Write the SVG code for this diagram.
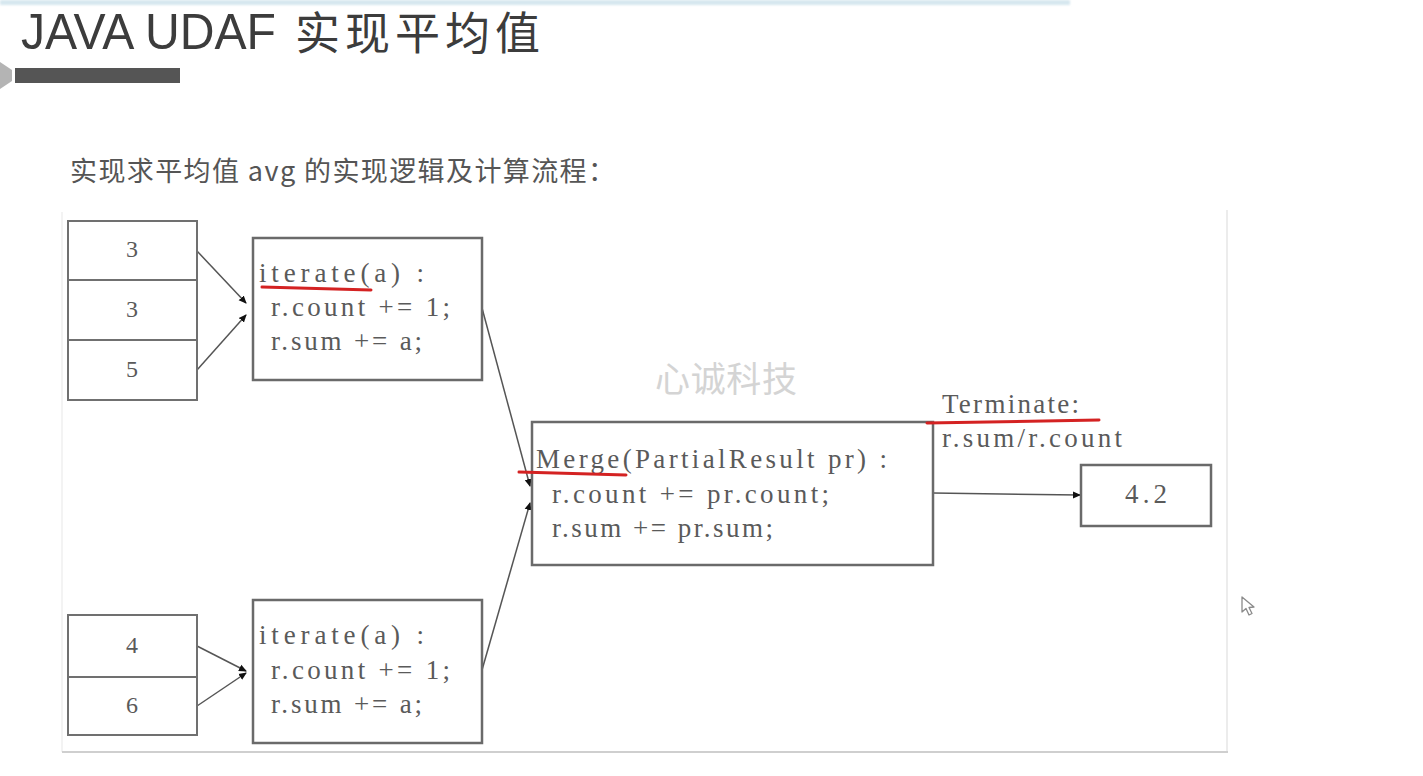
<svg xmlns="http://www.w3.org/2000/svg" width="1423" height="776" viewBox="0 0 1423 776">
  <defs>
    <style>
      .title { font-family: "Liberation Sans", "Noto Sans CJK SC", sans-serif; fill: #3c3c3c; }
      .sub { font-family: "Noto Sans CJK SC", "Liberation Sans", sans-serif; fill: #555; font-size: 27px; }
      .code { font-family: "Liberation Serif", "Noto Sans CJK SC", serif; fill: #5a5a5a; font-size: 27px; }
      .num { font-family: "Liberation Serif", serif; fill: #5a5a5a; font-size: 24px; text-anchor: middle; }
      .box { fill: #fff; stroke: #6a6a6a; stroke-width: 2.5; }
      .cell { fill: #fff; stroke: #707070; stroke-width: 2; }
      .link { fill: none; stroke: #555; stroke-width: 1.5; }
      .mark { fill: none; stroke: #d42222; stroke-width: 3; stroke-linecap: round; }
      .wm { font-family: "Noto Sans CJK SC", sans-serif; fill: #d4d4d4; font-size: 35px; }
    </style>
    <marker id="arrow" markerWidth="8" markerHeight="8" refX="7" refY="4" orient="auto" markerUnits="userSpaceOnUse">
      <path d="M0,0.5 L8,4 L0,7.5 Z" fill="#111"/>
    </marker>
    <filter id="soft" x="-5%" y="-50%" width="110%" height="200%">
      <feGaussianBlur stdDeviation="1.2"/>
    </filter>
  </defs>

  <rect x="0" y="0" width="1423" height="776" fill="#fff"/>

  <!-- slide header -->
  <g id="header">
    <rect x="0" y="0" width="1070" height="5" fill="#d6e7ef" filter="url(#soft)"/>
    <text class="title" x="21" y="49" font-size="50" textLength="255" lengthAdjust="spacingAndGlyphs">JAVA UDAF</text>
    <text class="title" x="295" y="50" font-family="Noto Sans CJK SC, sans-serif" font-size="45" textLength="245" lengthAdjust="spacing">实现平均值</text>
    <polygon points="0,62 12,70 12,81 0,89" fill="#b4b4b4"/>
    <rect x="15" y="68" width="165" height="15" fill="#555"/>
  </g>

  <g id="subtitle">
    <text class="sub" x="70" y="181" textLength="545" lengthAdjust="spacing">实现求平均值 avg 的实现逻辑及计算流程：</text>
  </g>

  <!-- frame of the flow figure -->
  <g id="frame">
    <line x1="62" y1="212" x2="62" y2="752" stroke="#f3f3f3" stroke-width="2"/>
    <line x1="1227" y1="210" x2="1227" y2="752" stroke="#ececec" stroke-width="2"/>
    <line x1="62" y1="752" x2="1228" y2="752" stroke="#cfcfcf" stroke-width="2"/>
  </g>

  <!-- watermark -->
  <g id="watermark">
    <text class="wm" x="655" y="392" textLength="142" lengthAdjust="spacing">心诚科技</text>
  </g>

  <!-- connectors -->
  <g id="connectors">
    <line class="link" x1="197" y1="251" x2="246" y2="303" marker-end="url(#arrow)"/>
    <line class="link" x1="197" y1="370" x2="246" y2="315" marker-end="url(#arrow)"/>
    <line class="link" x1="197" y1="646" x2="246" y2="671" marker-end="url(#arrow)"/>
    <line class="link" x1="197" y1="706" x2="246" y2="673" marker-end="url(#arrow)"/>
    <line class="link" x1="482" y1="308" x2="530" y2="486" marker-end="url(#arrow)"/>
    <line class="link" x1="482" y1="670" x2="530" y2="503" marker-end="url(#arrow)"/>
    <line class="link" x1="933" y1="493" x2="1080" y2="495" marker-end="url(#arrow)"/>
  </g>

  <!-- input values, first split -->
  <g id="values-a">
    <rect class="cell" x="68" y="221" width="129" height="59"/>
    <rect class="cell" x="68" y="280" width="129" height="60"/>
    <rect class="cell" x="68" y="340" width="129" height="60"/>
    <text class="num" x="132" y="257">3</text>
    <text class="num" x="132" y="317">3</text>
    <text class="num" x="132" y="377">5</text>
  </g>

  <!-- input values, second split -->
  <g id="values-b">
    <rect class="cell" x="68" y="615" width="129" height="62"/>
    <rect class="cell" x="68" y="677" width="129" height="58"/>
    <text class="num" x="132" y="653">4</text>
    <text class="num" x="132" y="713">6</text>
  </g>

  <g id="iterate-a">
    <rect class="box" x="253" y="238" width="229" height="142"/>
    <text class="code" x="259" y="282" textLength="165" lengthAdjust="spacing">iterate(a) :</text>
    <text class="code" x="271" y="316" textLength="179" lengthAdjust="spacing">r.count += 1;</text>
    <text class="code" x="271" y="350" textLength="151" lengthAdjust="spacing">r.sum += a;</text>
    <path class="mark" d="M262,287 L371,290"/>
  </g>

  <g id="iterate-b">
    <rect class="box" x="253" y="600" width="229" height="143"/>
    <text class="code" x="259" y="644" textLength="165" lengthAdjust="spacing">iterate(a) :</text>
    <text class="code" x="271" y="679" textLength="179" lengthAdjust="spacing">r.count += 1;</text>
    <text class="code" x="271" y="713" textLength="151" lengthAdjust="spacing">r.sum += a;</text>
  </g>

  <g id="merge">
    <rect class="box" x="532" y="422" width="401" height="143"/>
    <text class="code" x="536" y="468" textLength="351" lengthAdjust="spacing">Merge(PartialResult pr) :</text>
    <text class="code" x="552" y="503" textLength="277" lengthAdjust="spacing">r.count += pr.count;</text>
    <text class="code" x="552" y="537" textLength="221" lengthAdjust="spacing">r.sum += pr.sum;</text>
    <path class="mark" d="M519,472 L626,475"/>
  </g>

  <g id="terminate">
    <text class="code" x="942" y="413" textLength="137" lengthAdjust="spacing">Terminate:</text>
    <text class="code" x="942" y="447" textLength="180" lengthAdjust="spacing">r.sum/r.count</text>
    <path class="mark" d="M927,423 L1099,420"/>
  </g>

  <g id="result">
    <rect class="box" x="1081" y="465" width="130" height="61"/>
    <text class="code" x="1125" y="503" font-size="29" textLength="42" lengthAdjust="spacing">4.2</text>
  </g>

  <!-- pointer -->
  <g id="pointer">
    <path d="M1242,597 L1242,612 L1246,608.5 L1249,615 L1252,613.5 L1249,607.5 L1254,607 Z" fill="#fff" stroke="#8a8a8a" stroke-width="1.3" stroke-linejoin="round"/>
  </g>
</svg>
